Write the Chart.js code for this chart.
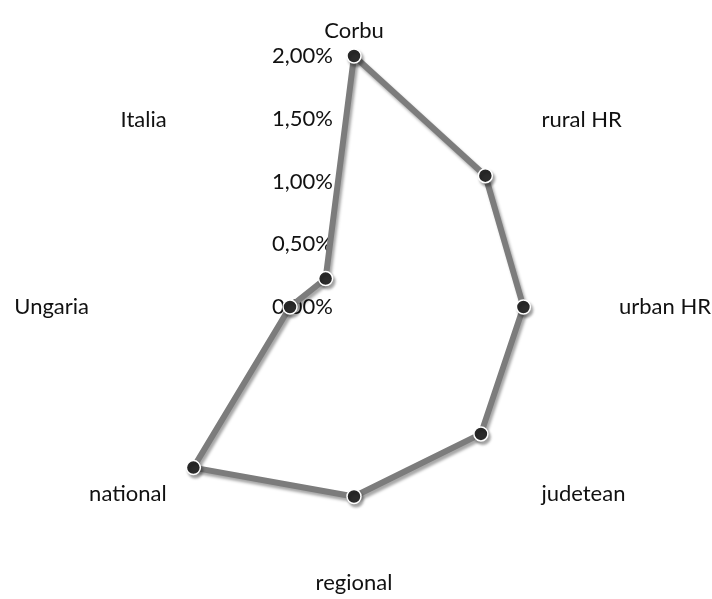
<!DOCTYPE html>
<html>
<head>
<meta charset="utf-8">
<script src="https://cdn.jsdelivr.net/npm/chart.js@4.4.0/dist/chart.umd.min.js"></script>
<style>
html,body{margin:0;padding:0;background:#ffffff;}
#wrap{width:712px;height:599px;}
</style>
</head>
<body>
<div id="wrap"><canvas id="c" width="712" height="599"></canvas></div>
<script>
const categories = ['Corbu', 'rural HR', 'urban HR', 'judetean', 'regional', 'national', 'Ungaria', 'Italia'];
const values = [2.00, 1.48, 1.35, 1.43, 1.51, 1.81, 0.51, 0.32];
const tickValues = [0, 0.5, 1.0, 1.5, 2.0];
const tickLabels = ['0,00%', '0,50%', '1,00%', '1,50%', '2,00%'];

const FONT = '22px Lato';
const TEXT = '#111111';
const LABEL_PAD = 14;

const tickLabelPlugin = {
  id: 'tickLabels',
  beforeDatasetsDraw(chart) {
    const s = chart.scales.r, ctx = chart.ctx;
    ctx.save();
    ctx.font = FONT;
    ctx.fillStyle = TEXT;
    ctx.textAlign = 'right';
    ctx.textBaseline = 'middle';
    tickValues.forEach((v, k) => {
      const d = s.getDistanceFromCenterForValue(v);
      ctx.fillText(tickLabels[k], s.xCenter - 21, s.yCenter - d);
    });
    ctx.restore();
  }
};

const pointLabelPlugin = {
  id: 'pointLabelsCustom',
  afterDatasetsDraw(chart) {
    const s = chart.scales.r, ctx = chart.ctx;
    ctx.save();
    ctx.font = FONT;
    ctx.fillStyle = TEXT;
    categories.forEach((lab, i) => {
      const ang = s.getIndexAngle(i);
      const p = s.getPointPosition(i, s.drawingArea + LABEL_PAD);
      const sn = Math.sin(ang), cs = Math.cos(ang);
      ctx.textAlign = Math.abs(sn) < 0.01 ? 'center' : (sn > 0 ? 'left' : 'right');
      ctx.textBaseline = Math.abs(sn) > 0.01 ? 'middle' : (cs > 0 ? 'bottom' : 'top');
      ctx.fillText(lab, p.x, p.y);
    });
    ctx.restore();
  }
};

const shadowPlugin = {
  id: 'lineShadow',
  beforeDatasetDraw(chart) {
    const ctx = chart.ctx;
    ctx.save();
    ctx.shadowColor = 'rgba(0,0,0,0.35)';
    ctx.shadowOffsetX = 2;
    ctx.shadowOffsetY = 3;
    ctx.shadowBlur = 3;
  },
  afterDatasetDraw(chart) {
    chart.ctx.restore();
  }
};

new Chart(document.getElementById('c'), {
  type: 'radar',
  data: {
    labels: categories,
    datasets: [{
      data: values,
      fill: false,
      borderColor: '#7c7c7c',
      borderWidth: 6,
      pointRadius: 7,
      pointBackgroundColor: '#2b2b2b',
      pointBorderColor: '#ffffff',
      pointBorderWidth: 1.5,
      tension: 0
    }]
  },
  options: {
    responsive: false,
    animation: false,
    devicePixelRatio: 1,
    layout: { padding: { top: 56, bottom: 41, left: 103, right: 107 } },
    plugins: { legend: { display: false }, tooltip: { enabled: false } },
    scales: {
      r: {
        min: 0,
        max: 2,
        ticks: { display: false, stepSize: 0.5 },
        grid: { display: false },
        angleLines: { display: false },
        pointLabels: { display: false }
      }
    }
  },
  plugins: [tickLabelPlugin, pointLabelPlugin, shadowPlugin]
});
</script>
</body>
</html>
